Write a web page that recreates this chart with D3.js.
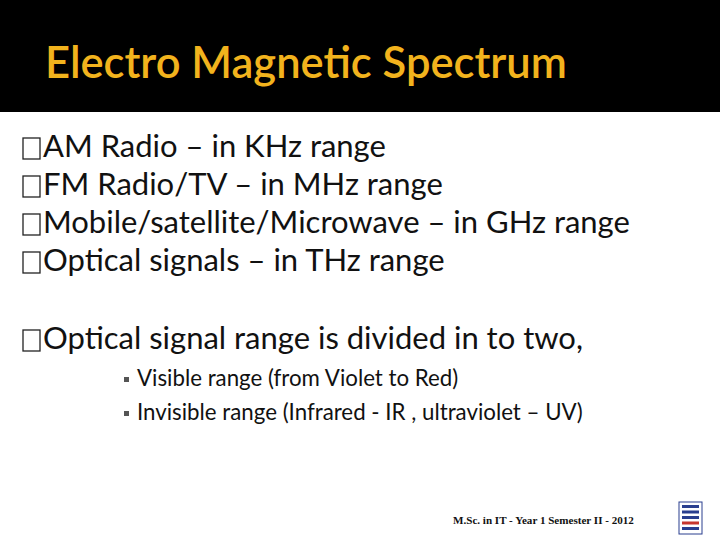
<!DOCTYPE html>
<html><head><meta charset="utf-8">
<script src="https://cdn.jsdelivr.net/npm/d3@7"></script>
<style>body{margin:0;background:#fff}</style>
</head><body>
<svg id="slide" width="720" height="540"></svg>
<script>
var title = 'Electro Magnetic Spectrum';
var bullets = [
  'AM Radio – in KHz range',
  'FM Radio/TV – in MHz range',
  'Mobile/satellite/Microwave – in GHz range',
  'Optical signals – in THz range'
];
var bullet2 = 'Optical signal range is divided in to two,';
var subBullets = [
  'Visible range (from Violet to Red)',
  'Invisible range (Infrared - IR , ultraviolet – UV)'
];
var footer = 'M.Sc. in IT - Year 1 Semester II - 2012';

var svg = d3.select('#slide');
var font = 'Lato, "Open Sans", sans-serif';

// scale a group's font so a reference line gets the wanted width
function fit(sel, width) {
  var w = sel.node().getComputedTextLength();
  var fs = parseFloat(sel.attr('font-size'));
  return fs * width / w;
}

svg.append('rect').attr('width', 720).attr('height', 112).attr('fill', '#000');
var t = svg.append('text').attr('x', 45).attr('y', 78)
  .attr('fill', '#f2b31d').attr('font-size', 38).attr('font-weight', 600)
  .attr('font-family', font).text(title);
t.attr('font-size', fit(t, 522));

var y = d3.scalePoint().domain(d3.range(bullets.length)).range([157, 271]);

var texts = [];
function bullet(txt, yy) {
  var g = svg.append('g').attr('transform', 'translate(0,' + yy + ')');
  g.append('rect').attr('x', 23).attr('y', -19).attr('width', 17).attr('height', 21)
    .attr('fill', 'none').attr('stroke', '#222').attr('stroke-width', 1.3);
  texts.push(g.append('text').attr('x', 43).attr('y', 0).attr('fill', '#111')
    .attr('font-size', 26).attr('font-family', font).text(txt));
}
bullets.forEach(function (b, i) { bullet(b, y(i)); });
bullet(bullet2, 349);
var bfs = fit(texts[2], 587);
texts.forEach(function (s) { s.attr('font-size', bfs); });

var subs = [];
subBullets.forEach(function (s, i) {
  var yy = 386 + i * 34;
  svg.append('rect').attr('x', 124).attr('y', yy - 9).attr('width', 5).attr('height', 5)
    .attr('fill', '#555');
  subs.push(svg.append('text').attr('x', 137).attr('y', yy).attr('fill', '#111')
    .attr('font-size', 19).attr('font-family', font).text(s));
});
var sfs = fit(subs[1], 446);
subs.forEach(function (s) { s.attr('font-size', sfs); });

var f = svg.append('text').attr('x', 453).attr('y', 524).attr('fill', '#111')
  .attr('font-size', 10.5).attr('font-weight', 'bold')
  .attr('font-family', '"Liberation Serif", serif').text(footer);
f.attr('font-size', fit(f, 181));

// little logo
var logo = svg.append('g').attr('transform', 'translate(679,502)');
logo.append('rect').attr('width', 23).attr('height', 32).attr('fill', '#fff')
  .attr('stroke', '#2a3f8f').attr('stroke-width', 1);
d3.range(5).forEach(function (r) {
  logo.append('rect').attr('x', 3).attr('y', 3 + r * 5.5).attr('width', 17).attr('height', 3)
    .attr('fill', r === 3 ? '#c8372d' : '#2a3f8f');
});
</script>
</body></html>
